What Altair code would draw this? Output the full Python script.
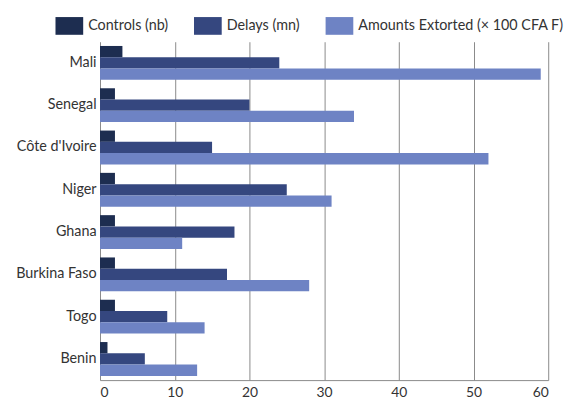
import altair as alt
import pandas as pd

countries = ["Mali", "Senegal", "Côte d'Ivoire", "Niger", "Ghana", "Burkina Faso", "Togo", "Benin"]
controls = [3, 2, 2, 2, 2, 2, 2, 1]
delays = [24, 20, 15, 25, 18, 17, 9, 6]
amounts = [59, 34, 52, 31, 11, 28, 14, 13]
series = ["Controls (nb)", "Delays (mn)", "Amounts Extorted (× 100 CFA F)"]
colors = ["#1d2d50", "#35477f", "#6e83c4"]
x_ticks = [0, 10, 20, 30, 40, 50, 60]

rows = []
for i, c in enumerate(countries):
    for s, vals in zip(series, [controls, delays, amounts]):
        rows.append({"country": c, "series": s, "value": vals[i]})
df = pd.DataFrame(rows)

FONT = "Lato"

chart = alt.Chart(df).mark_bar().encode(
    y=alt.Y("country:N", sort=countries, title=None,
            scale=alt.Scale(paddingInner=0.2, paddingOuter=0.1),
            axis=alt.Axis(ticks=False, domain=False, labelPadding=4, labelFontSize=14.5,
                          labelColor="#333333", labelFont=FONT)),
    yOffset=alt.YOffset("series:N", sort=series, scale=alt.Scale(paddingInner=0, paddingOuter=0)),
    x=alt.X("value:Q", title=None,
            scale=alt.Scale(domain=[0, 60], nice=False),
            axis=alt.Axis(values=x_ticks, grid=True, gridColor="#8a8a8a", gridWidth=1,
                          ticks=False, domain=True, domainColor="#8a8a8a",
                          labelFontSize=14, labelColor="#333333", labelFont=FONT,
                          labelPadding=6)),
    color=alt.Color("series:N", sort=series,
                    scale=alt.Scale(domain=series, range=colors),
                    legend=alt.Legend(orient="none", legendX=-45, legendY=-30,
                                      direction="horizontal", title=None,
                                      symbolType="M-1,-0.64H1V0.64H-1Z",
                                      symbolSize=784, symbolStrokeWidth=0,
                                      symbolOpacity=1,
                                      labelFontSize=14.5, labelFont=FONT,
                                      labelColor="#333333", labelOffset=5,
                                      labelLimit=400,
                                      columnPadding=26, padding=0)),
).properties(
    width=453,
    height=342,
    autosize=alt.AutoSizeParams(type="none"),
    padding={"left": 93, "top": 32, "right": 20, "bottom": 18},
).configure_view(stroke=None)

chart.save("out.html", embed_options={"renderer": "svg", "actions": False})
